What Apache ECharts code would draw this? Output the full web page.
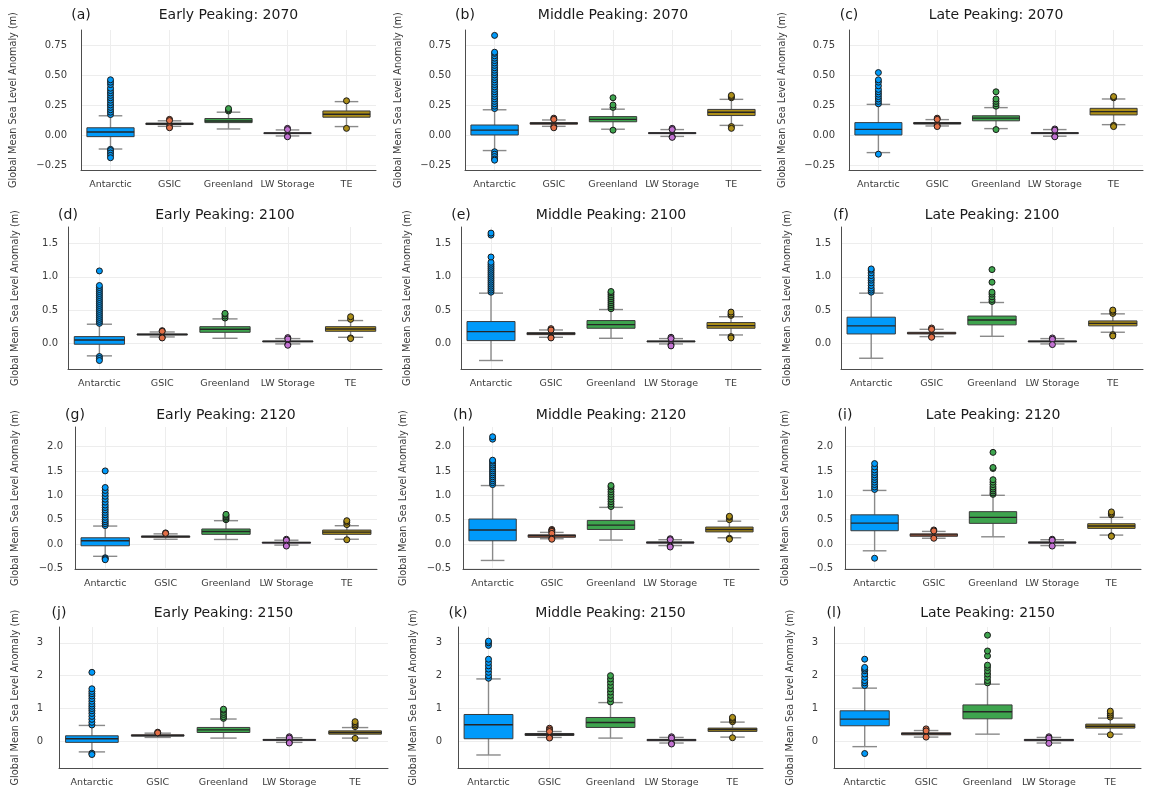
<!DOCTYPE html>
<html><head><meta charset="utf-8">
<script src="https://cdn.jsdelivr.net/npm/echarts@6/dist/echarts.min.js"></script>
<style>html,body{margin:0;padding:0;background:#fff}#c{width:1150px;height:793px}</style>
</head><body><div id="c"></div><script>
const categories = ['Antarctic','GSIC','Greenland','LW Storage','TE'];
const colors = ['#009AFA','#E36F47','#3EA44E','#C271D2','#AC8E18'];
const panelTags = ['(a)','(b)','(c)','(d)','(e)','(f)','(g)','(h)','(i)','(j)','(k)','(l)'];
const panelTitles = ['Early Peaking: 2070','Middle Peaking: 2070','Late Peaking: 2070',
  'Early Peaking: 2100','Middle Peaking: 2100','Late Peaking: 2100',
  'Early Peaking: 2120','Middle Peaking: 2120','Late Peaking: 2120',
  'Early Peaking: 2150','Middle Peaking: 2150','Late Peaking: 2150'];
const yLabel = 'Global Mean Sea Level Anomaly (m)';
const yTicks1 = [-0.25, 0, 0.25, 0.5, 0.75];
const yTicks2 = [0, 0.5, 1.0, 1.5];
const yTicks3 = [-0.5, 0, 0.5, 1.0, 1.5, 2.0];
const yTicks4 = [0, 1, 2, 3];

// box stats per category: [lower whisker, Q1, median, Q3, upper whisker]
const boxA = [[-0.117,-0.014,0.025,0.06,0.16],[0.072,0.087,0.093,0.099,0.118],[0.05,0.103,0.117,0.137,0.19],[-0.008,0.011,0.015,0.019,0.042],[0.07,0.148,0.173,0.2,0.278]];
const outA = [[0.17,0.19,0.21,0.23,0.25,0.27,0.29,0.31,0.33,0.35,0.37,0.39,0.42,0.44,0.46,-0.12,-0.13,-0.15,-0.17,-0.19],[0.13,0.12,0.07,0.06],[0.2,0.21,0.22],[0.055,0.045,-0.01,-0.015],[0.285,0.055]];
const boxB = [[-0.13,0.0,0.04,0.083,0.21],[0.072,0.09,0.097,0.103,0.125],[0.048,0.11,0.13,0.153,0.215],[-0.012,0.011,0.015,0.02,0.045],[0.08,0.162,0.19,0.213,0.297]];
const outB = [[0.22,0.24,0.26,0.28,0.3,0.32,0.34,0.36,0.38,0.4,0.42,0.44,0.46,0.48,0.5,0.52,0.54,0.56,0.58,0.6,0.62,0.64,0.66,0.68,0.69,0.83,-0.14,-0.16,-0.18,-0.2,-0.21],[0.14,0.13,0.07,0.06],[0.23,0.25,0.31,0.04],[0.055,0.045,-0.015,-0.02],[0.31,0.32,0.33,0.07,0.055]];
const boxC = [[-0.147,0.0,0.047,0.103,0.255],[0.075,0.091,0.098,0.104,0.128],[0.053,0.118,0.14,0.16,0.228],[-0.01,0.011,0.015,0.02,0.045],[0.086,0.167,0.195,0.222,0.3]];
const outC = [[0.26,0.28,0.3,0.32,0.34,0.36,0.38,0.41,0.44,0.46,0.52,-0.16],[0.14,0.13,0.08,0.07],[0.24,0.26,0.28,0.3,0.36,0.045],[0.05,0.04,-0.01,-0.015],[0.31,0.32,0.08,0.07]];
const boxD = [[-0.19,-0.015,0.05,0.1,0.287],[0.095,0.125,0.133,0.14,0.17],[0.075,0.165,0.21,0.25,0.367],[-0.01,0.02,0.028,0.035,0.07],[0.09,0.18,0.215,0.25,0.342]];
const outD = [[0.3,0.33,0.36,0.39,0.42,0.45,0.48,0.51,0.54,0.57,0.6,0.63,0.66,0.69,0.72,0.75,0.78,0.81,0.84,0.87,1.09,-0.2,-0.23,-0.26],[0.19,0.18,0.09,0.08],[0.38,0.41,0.44,0.45],[0.085,0.065,-0.02,-0.03],[0.36,0.4,0.08,0.07]];
const boxE = [[-0.26,0.04,0.176,0.327,0.755],[0.09,0.13,0.145,0.16,0.2],[0.075,0.226,0.28,0.342,0.508],[-0.01,0.02,0.028,0.035,0.07],[0.125,0.226,0.265,0.312,0.4]];
const outE = [[0.77,0.8,0.83,0.86,0.89,0.92,0.95,0.98,1.01,1.04,1.07,1.1,1.13,1.16,1.19,1.22,1.3,1.63,1.66],[0.22,0.2,0.09,0.08],[0.52,0.55,0.58,0.61,0.64,0.67,0.7,0.73,0.76,0.78],[0.09,0.07,-0.02,-0.04],[0.42,0.44,0.47,0.1,0.08]];
const boxF = [[-0.226,0.14,0.262,0.393,0.755],[0.1,0.14,0.152,0.165,0.21],[0.105,0.277,0.35,0.41,0.614],[-0.01,0.02,0.028,0.035,0.07],[0.166,0.262,0.3,0.337,0.443]];
const outF = [[0.77,0.8,0.83,0.87,0.91,0.95,0.98,1.02,1.06,1.1,1.12],[0.23,0.21,0.1,0.09],[0.63,0.66,0.7,0.74,0.77,0.92,1.11],[0.08,0.06,-0.02],[0.45,0.48,0.5,0.13,0.11]];
const boxG = [[-0.25,-0.034,0.068,0.13,0.37],[0.1,0.14,0.155,0.165,0.21],[0.095,0.2,0.26,0.31,0.48],[-0.02,0.02,0.03,0.04,0.08],[0.1,0.2,0.245,0.288,0.377]];
const outG = [[0.38,0.42,0.46,0.5,0.55,0.6,0.65,0.7,0.75,0.8,0.86,0.92,0.98,1.04,1.1,1.16,1.5,-0.28,-0.3,-0.32],[0.23,0.22],[0.5,0.53,0.56,0.59,0.61],[0.1,0.08,-0.02,-0.04],[0.4,0.45,0.48,0.09]];
const boxH = [[-0.335,0.068,0.29,0.514,1.2],[0.11,0.14,0.17,0.19,0.24],[0.082,0.3,0.39,0.486,0.753],[-0.03,0.02,0.032,0.045,0.09],[0.13,0.25,0.3,0.35,0.47]];
const outH = [[1.22,1.26,1.3,1.34,1.38,1.42,1.46,1.5,1.54,1.58,1.62,1.66,1.7,1.72,2.15,2.2],[0.3,0.28,0.26,0.22,0.12,0.1],[0.77,0.82,0.87,0.92,0.97,1.02,1.07,1.12,1.17,1.2],[0.11,0.09,-0.04,-0.06],[0.5,0.55,0.57,0.12,0.1]];
const boxI = [[-0.137,0.274,0.43,0.6,1.1],[0.12,0.16,0.19,0.21,0.26],[0.15,0.425,0.548,0.665,1.0],[-0.03,0.02,0.032,0.045,0.09],[0.185,0.322,0.37,0.418,0.548]];
const outI = [[1.12,1.17,1.22,1.27,1.32,1.37,1.42,1.47,1.52,1.58,1.65,-0.29],[0.29,0.27,0.12],[1.02,1.05,1.09,1.13,1.17,1.22,1.27,1.32,1.55,1.57,1.88],[0.1,0.08,-0.04],[0.6,0.63,0.66,0.17,0.16]];
const boxJ = [[-0.32,-0.03,0.08,0.17,0.485],[0.12,0.16,0.18,0.2,0.25],[0.1,0.27,0.35,0.424,0.68],[-0.03,0.03,0.045,0.06,0.11],[0.1,0.22,0.27,0.32,0.42]];
const outJ = [[0.5,0.58,0.67,0.76,0.85,0.93,1.0,1.07,1.14,1.22,1.3,1.38,1.45,1.52,1.6,2.1,-0.36,-0.4],[0.28,0.26],[0.7,0.75,0.82,0.88,0.95,0.98],[0.14,0.1,-0.03,-0.05],[0.45,0.5,0.55,0.6,0.09]];
const boxK = [[-0.414,0.08,0.505,0.818,1.9],[0.12,0.18,0.21,0.24,0.3],[0.1,0.424,0.576,0.727,1.18],[-0.05,0.02,0.04,0.06,0.12],[0.13,0.303,0.36,0.404,0.586]];
const outK = [[1.92,2.0,2.1,2.2,2.3,2.4,2.5,2.92,3.0,3.05],[0.4,0.35,0.3,0.12,0.1],[1.2,1.3,1.4,1.5,1.6,1.7,1.8,1.9,2.0],[0.14,0.1,-0.06,-0.08],[0.6,0.65,0.7,0.73,0.11]];
const boxL = [[-0.16,0.475,0.677,0.93,1.62],[0.13,0.2,0.23,0.26,0.33],[0.22,0.687,0.9,1.11,1.74],[-0.05,0.02,0.04,0.06,0.12],[0.22,0.404,0.46,0.525,0.707]];
const outL = [[1.7,1.78,1.85,1.95,2.05,2.15,2.2,2.25,2.5,-0.37],[0.38,0.32,0.13],[1.78,1.85,1.95,2.05,2.15,2.25,2.32,2.6,2.75,3.23],[0.14,0.1,-0.06],[0.74,0.8,0.86,0.92,0.2]];

const boxes = [boxA,boxB,boxC,boxD,boxE,boxF,boxG,boxH,boxI,boxJ,boxK,boxL];
const outliers = [outA,outB,outC,outD,outE,outF,outG,outH,outI,outJ,outK,outL];

// layout (pixels) per row
const rows = [
  {top:30, bottom:170, min:-0.292, max:0.875, ticks:yTicks1, dec:2, gap:14, titleY:15, xs:[[81,376],[465,761],[849,1143]], ylx:[13,398,782]},
  {top:227, bottom:369, min:-0.388, max:1.752, ticks:yTicks2, dec:1, gap:10, titleY:215, xs:[[68,382],[461,761],[841,1143]], ylx:[15,407,787]},
  {top:427, bottom:569, min:-0.51, max:2.40, ticks:yTicks3, dec:1, gap:12, titleY:415, xs:[[75,377],[463,759],[845,1141]], ylx:[15,403,785]},
  {top:627, bottom:768, min:-0.81, max:3.48, ticks:yTicks4, dec:0, gap:16, titleY:613, xs:[[59,388],[458,763],[834,1141]], ylx:[15,413,790]}
];
const FONT = 'DejaVu Sans';
const xCenters = categories.map((c,i)=>i+0.5);
function fmt(v, dec){ const s = Math.abs(v).toFixed(dec); return (v < -1e-9 ? '\u2212' : '') + s; }

function renderBox(params, api){
  const x = api.value(0), ci = api.value(6);
  const pMin = api.coord([x, api.value(1)]);
  const pQ1 = api.coord([x, api.value(2)]);
  const pMed = api.coord([x, api.value(3)]);
  const pQ3 = api.coord([x, api.value(4)]);
  const pMax = api.coord([x, api.value(5)]);
  const w = api.size([0.8, 0])[0];
  const cx = pMed[0], hw = w/2, cw = w/4;
  const wl = {stroke:'#8a8a8a', lineWidth:1.4};
  return {type:'group', children:[
    {type:'line', shape:{x1:cx,y1:pMax[1],x2:cx,y2:pQ3[1]}, style:wl},
    {type:'line', shape:{x1:cx,y1:pQ1[1],x2:cx,y2:pMin[1]}, style:wl},
    {type:'line', shape:{x1:cx-cw,y1:pMax[1],x2:cx+cw,y2:pMax[1]}, style:wl},
    {type:'line', shape:{x1:cx-cw,y1:pMin[1],x2:cx+cw,y2:pMin[1]}, style:wl},
    {type:'rect', shape:{x:cx-hw,y:pQ3[1],width:w,height:pQ1[1]-pQ3[1]}, style:{fill:colors[ci], stroke:'#3a3a3a', lineWidth:1}},
    {type:'line', shape:{x1:cx-hw,y1:pMed[1],x2:cx+hw,y2:pMed[1]}, style:{stroke:'#262626', lineWidth:1.4}}
  ]};
}

const grid=[], xAxis=[], yAxis=[], series=[], graphic=[];
for (let k=0;k<12;k++){
  const r = rows[Math.floor(k/3)], col = k%3;
  const [l, rt] = r.xs[col];
  grid.push({left:l, top:r.top, width:rt-l, height:r.bottom-r.top, outerBoundsMode:'none', containLabel:false});
  xAxis.push({type:'value', gridIndex:k, min:0, max:5,
    axisLine:{show:true, onZero:false, lineStyle:{color:'#4d4d4d', width:1}},
    axisTick:{show:false, customValues:xCenters},
    axisLabel:{customValues:xCenters, formatter:v=>categories[Math.round(v-0.5)], fontSize:9.5, fontFamily:FONT, color:'#3b3b3b', margin:10},
    splitLine:{show:true, lineStyle:{color:'#ededed', width:1}}});
  yAxis.push({type:'value', gridIndex:k, min:r.min, max:r.max,
    axisLine:{show:true, onZero:false, lineStyle:{color:'#4d4d4d', width:1}},
    axisTick:{show:false, customValues:r.ticks},
    axisLabel:{customValues:r.ticks, formatter:(dec=>v=>fmt(v,dec))(r.dec), fontSize:10, fontFamily:FONT, color:'#3b3b3b', margin:r.gap},
    splitLine:{show:true, lineStyle:{color:'#ededed', width:1}}});
  series.push({type:'custom', xAxisIndex:k, yAxisIndex:k, renderItem:renderBox, clip:true, z:2,
    encode:{x:0, y:[1,2,3,4,5]},
    data: boxes[k].map((b,i)=>[xCenters[i], b[0], b[1], b[2], b[3], b[4], i])});
  const pts = [];
  outliers[k].forEach((arr,i)=>arr.forEach(v=>pts.push({value:[xCenters[i], v], itemStyle:{color:colors[i]}})));
  series.push({type:'scatter', xAxisIndex:k, yAxisIndex:k, symbolSize:6, z:3, data:pts,
    itemStyle:{borderColor:'#1a1a1a', borderWidth:1, opacity:1}});
  graphic.push({type:'text', x:(l+rt)/2, y:r.titleY, style:{text:panelTitles[k], fontSize:14, fontFamily:FONT, fill:'#1a1a1a', align:'center', verticalAlign:'middle'}});
  graphic.push({type:'text', x:l, y:r.titleY, style:{text:panelTags[k], fontSize:14, fontFamily:FONT, fill:'#1a1a1a', align:'center', verticalAlign:'middle'}});
  graphic.push({type:'text', x:r.ylx[col], y:(r.top+r.bottom)/2, rotation:Math.PI/2, style:{text:yLabel, fontSize:9.7, fontFamily:FONT, fill:'#3b3b3b', align:'center', verticalAlign:'middle'}});
}

const chart = echarts.init(document.getElementById('c'), null, {renderer:'canvas'});
chart.setOption({animation:false, backgroundColor:'#ffffff', grid, xAxis, yAxis, series, graphic});
</script></body></html>
